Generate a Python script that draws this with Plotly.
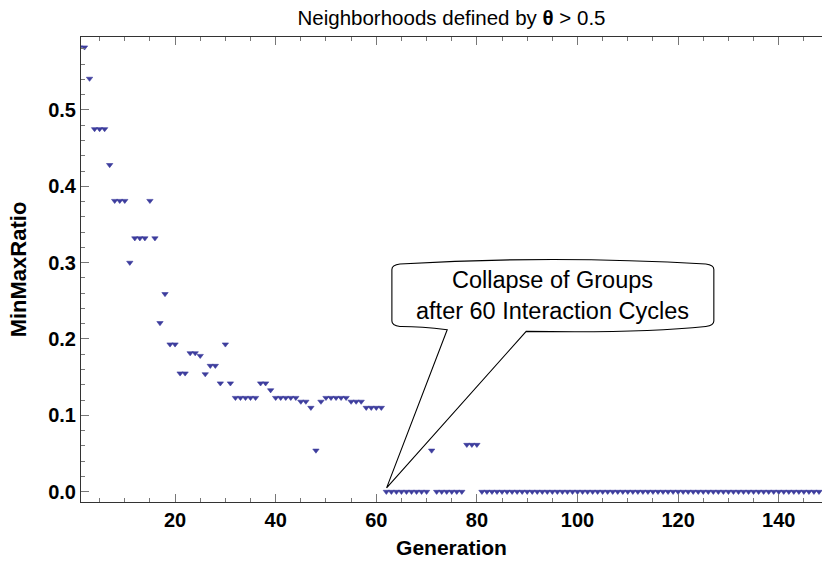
import plotly.graph_objects as go

# Generation index and MinMaxRatio per generation
generation = list(range(1, 149))

ratio_early = [0.582, 0.582, 0.541, 0.475, 0.475, 0.475, 0.428, 0.381, 0.381, 0.381,
               0.300, 0.332, 0.332, 0.332, 0.381, 0.332, 0.221, 0.259, 0.193, 0.193,
               0.155, 0.155, 0.1815, 0.1815, 0.178, 0.154, 0.165, 0.165, 0.142, 0.193,
               0.142, 0.123, 0.123, 0.123, 0.123, 0.123, 0.142, 0.142, 0.133, 0.123,
               0.123, 0.123, 0.123, 0.123, 0.118, 0.118, 0.110, 0.054, 0.118, 0.123,
               0.123, 0.123, 0.123, 0.123, 0.118, 0.118, 0.118, 0.110, 0.110, 0.110,
               0.110]
ratio_late = [0.0] * 9 + [0.054] + [0.0] * 6 + [0.0615] * 3 + [0.0] * 68
min_max_ratio = ratio_early + ratio_late

y_ticks = [0.0, 0.1, 0.2, 0.3, 0.4, 0.5]
y_tick_labels = ["0.0", "0.1", "0.2", "0.3", "0.4", "0.5"]
x_ticks = [20, 40, 60, 80, 100, 120, 140]

FONT = "Liberation Sans, Arial, sans-serif"
FRAME = "#333333"
TICK = "#777777"

fig = go.Figure()
fig.add_trace(go.Scatter(
    x=generation, y=min_max_ratio, mode="markers",
    marker=dict(symbol="triangle-down", size=5.5, color="#3d3d9d",
                line=dict(width=0.6, color="#3d3d9d")),
    showlegend=False, cliponaxis=True,
))

# Speech-bubble callout pointing at the collapse point
tip_x, tip_y = 62.05, 0.005
left, right = 63.1, 127.1
top_c, top_m = 0.297, 0.306
bot_c, bot_m = 0.2175, 0.2105
base_l, base_r = 74.1, 89.8
r = 1.6
bubble = (
    f"M {left},{top_c - 0.006} "
    f"Q {left},{top_c} {left + r},{top_c + 0.0012} "
    f"Q {(left + right) / 2},{top_m + 0.004} {right - r},{top_c + 0.0012} "
    f"Q {right},{top_c} {right},{top_c - 0.006} "
    f"L {right},{bot_c + 0.006} "
    f"Q {right},{bot_c} {right - r},{bot_c - 0.0012} "
    f"Q {(right + base_r) / 2 + 4},{bot_m - 0.003} {base_r},{bot_m - 0.0005} "
    f"L {tip_x},{tip_y} "
    f"L {base_l},{bot_m + 0.0015} "
    f"Q {(left + base_l) / 2},{bot_c - 0.001} {left + r},{bot_c - 0.0012} "
    f"Q {left},{bot_c} {left},{bot_c + 0.006} Z"
)
fig.add_shape(type="path", path=bubble, xref="x", yref="y",
              line=dict(color="black", width=1.1), fillcolor="white", layer="above")
fig.add_annotation(x=(left + right) / 2, y=0.2565, xref="x", yref="y",
                   text="Collapse of Groups<br>after 60 Interaction Cycles",
                   showarrow=False, font=dict(family=FONT, size=23.5, color="black"),
                   align="center")

fig.update_layout(
    width=822, height=569,
    margin=dict(l=81, r=0, t=37, b=67),
    paper_bgcolor="white", plot_bgcolor="white",
    font=dict(family=FONT, color="black"),
    title=dict(text="Neighborhoods defined by <b>θ</b> > 0.5",
               x=0.5, xref="paper", y=1 - 18 / 569, yref="container",
               yanchor="middle", font=dict(family=FONT, size=20.5, color="black")),
)

fig.update_xaxes(
    range=[1.3, 148.6], showgrid=False, zeroline=False,
    showline=True, linecolor=FRAME, linewidth=1, mirror="ticks",
    tickmode="array", tickvals=x_ticks, ticks="inside", ticklen=8, tickcolor=TICK,
    minor=dict(dtick=5, tick0=0, ticks="inside", ticklen=4, tickcolor=TICK),
    tickfont=dict(family=FONT, size=20, color="black", weight="bold"),
    title=dict(text="<b>Generation</b>", font=dict(family=FONT, size=21, color="black"),
               standoff=10),
)
fig.update_yaxes(
    range=[-0.0135, 0.5955], showgrid=False, zeroline=False,
    showline=True, linecolor=FRAME, linewidth=1, mirror=False,
    tickmode="array", tickvals=y_ticks, ticktext=y_tick_labels,
    ticks="inside", ticklen=8, tickcolor=TICK,
    minor=dict(dtick=0.02, tick0=0, ticks="inside", ticklen=4, tickcolor=TICK),
    tickfont=dict(family=FONT, size=20, color="black", weight="bold"),
    title=dict(text="<b>MinMaxRatio</b>", font=dict(family=FONT, size=22, color="black"),
               standoff=15),
)

fig.write_html("out.html")
